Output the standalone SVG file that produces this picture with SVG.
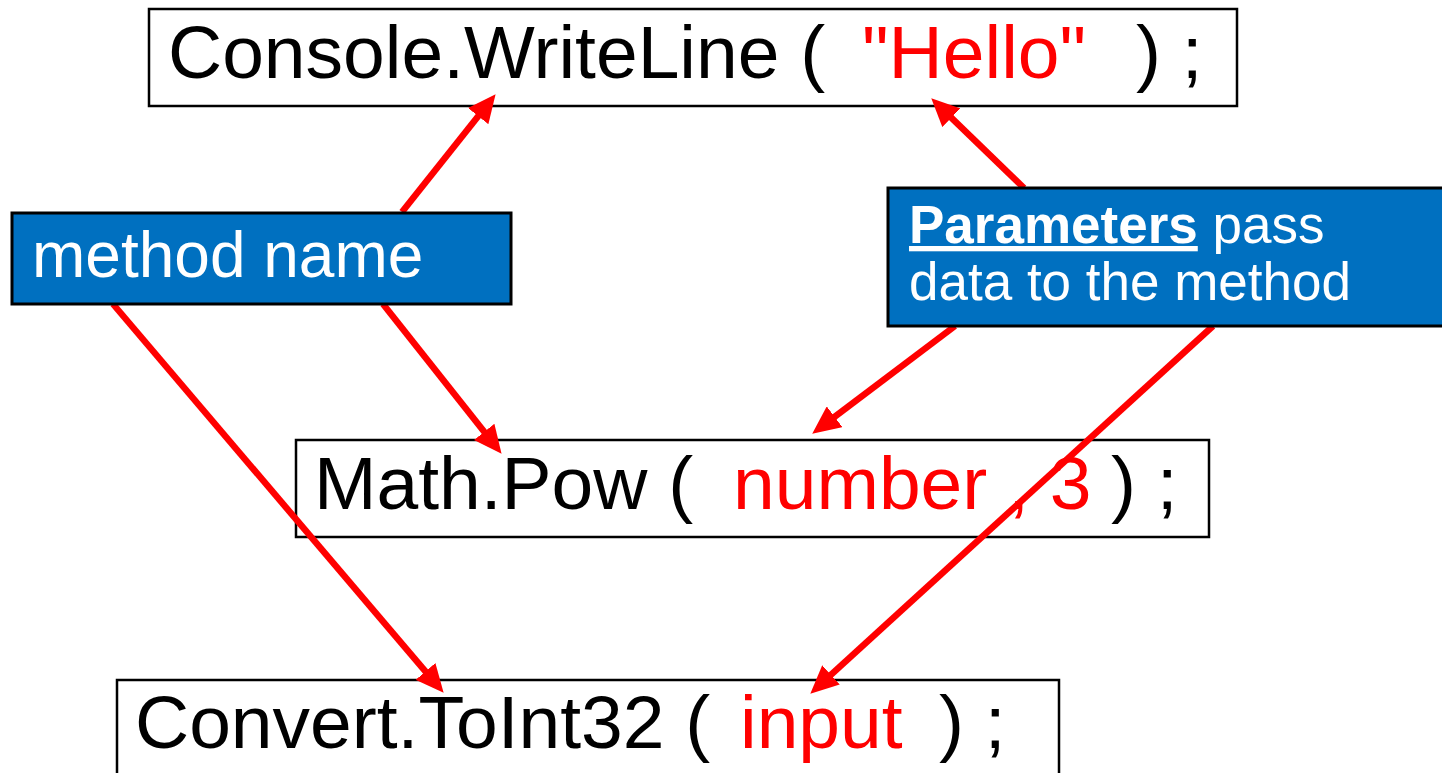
<svg xmlns="http://www.w3.org/2000/svg" width="1442" height="773" viewBox="0 0 1442 773">
<style>
.code{fill:#fff;stroke:#000;stroke-width:2.5}
.call{fill:#0070C0;stroke:#000;stroke-width:3}
.t{font-family:"Liberation Sans",Arial,sans-serif;font-size:75px;fill:#000}
.r{fill:#ff0000}
.w{font-family:"Liberation Sans",Arial,sans-serif;fill:#fff}
.arr{stroke:#ff0000;stroke-width:6.5;fill:none;marker-end:url(#ah)}
</style>
<defs>
<marker id="ah" markerUnits="userSpaceOnUse" markerWidth="28" markerHeight="26" refX="15" refY="13" orient="auto">
<path d="M0,0 L28,13 L0,26 z" fill="#ff0000"/>
</marker>
</defs>
<g id="console">
<rect class="code" x="149" y="9" width="1088" height="97"/>
<text class="t" x="168" y="78">Console.WriteLine (</text>
<text class="t r" x="862" y="78">"Hello"</text>
<text class="t" x="1136" y="78">) ;</text>
</g>
<g id="mathpow">
<rect class="code" x="296" y="440" width="913" height="97"/>
<text class="t" x="314" y="509">Math.Pow (</text>
<text class="t r" x="733" y="509">number , 3</text>
<text class="t" x="1111" y="509">) ;</text>
</g>
<g id="convert">
<rect class="code" x="117" y="680" width="942" height="110"/>
<text class="t" x="135" y="748">Convert.ToInt32 (</text>
<text class="t r" x="740" y="748">input</text>
<text class="t" x="939" y="748">) ;</text>
</g>
<g id="connectors">
<line class="arr" x1="402" y1="212" x2="487.5" y2="104.4"/>
<line class="arr" x1="383" y1="304" x2="493.5" y2="443.6"/>
<line class="arr" x1="113" y1="304" x2="435.2" y2="682.9"/>
<line class="arr" x1="1024" y1="188" x2="940.6" y2="107.3"/>
<line class="arr" x1="955" y1="326" x2="822.6" y2="425.8"/>
<line class="arr" x1="1213" y1="326" x2="819.9" y2="684.9"/>
</g>
<g id="methodname">
<rect class="call" x="12" y="213" width="499" height="91"/>
<text class="w" x="32" y="277" font-size="64">method name</text>
</g>
<g id="parameters">
<rect class="call" x="888" y="188" width="560" height="138"/>
<text class="w" x="909" y="243" font-size="53"><tspan font-weight="bold" text-decoration="underline">Parameters</tspan> pass</text>
<text class="w" x="909" y="300" font-size="53">data to the method</text>
</g>
</svg>
